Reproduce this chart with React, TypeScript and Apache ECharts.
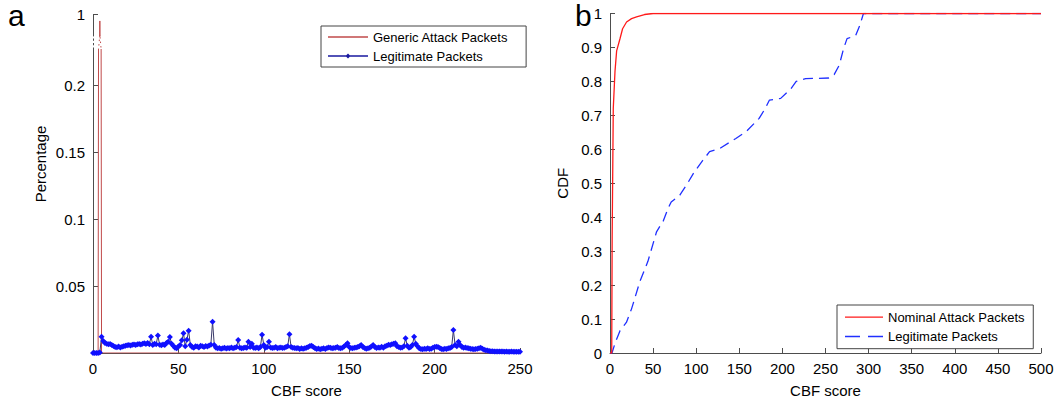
import React, { useEffect, useRef } from "react";
import * as echarts from "echarts";

const FONT = "'Liberation Sans', Arial, Helvetica, sans-serif";
const AXIS = "#4d4d4d";

// ---------- Panel a : Percentage vs CBF score ----------
const attackScoreA = [0, 3, 4, 5, 250];
const attackPctA = [0, 0, 0.97, 0, 0];
// Legitimate packets, one value per CBF score 0..250
const legitPctA = [
  0, 0, 0, 0, 0.0004, 0.0122, 0.009, 0.0075, 0.007, 0.0065,
  0.0068, 0.006, 0.0052, 0.0045, 0.0043, 0.0048, 0.0042, 0.0046, 0.005, 0.0055,
  0.0058, 0.006, 0.0056, 0.0062, 0.0064, 0.006, 0.0066, 0.0068, 0.0063, 0.007,
  0.0072, 0.0068, 0.0075, 0.0065, 0.0122, 0.006, 0.007, 0.0066, 0.013, 0.0062,
  0.0058, 0.0064, 0.006, 0.0075, 0.0085, 0.012, 0.007, 0.0055, 0.004, 0.0035,
  0.0048, 0.006, 0.0095, 0.0147, 0.005, 0.01, 0.0167, 0.006, 0.0045, 0.004,
  0.005, 0.0048, 0.0042, 0.0055, 0.005, 0.0045, 0.0052, 0.0048, 0.0056, 0.0062,
  0.0234, 0.006, 0.004, 0.0035, 0.0038, 0.0032, 0.0036, 0.004, 0.0034, 0.0038,
  0.0036, 0.0042, 0.0035, 0.004, 0.0045, 0.0098, 0.004, 0.0035, 0.0038, 0.0042,
  0.004, 0.0085, 0.0045, 0.007, 0.004, 0.0038, 0.0042, 0.0035, 0.0045, 0.0137,
  0.006, 0.004, 0.0045, 0.0085, 0.0042, 0.0038, 0.004, 0.0045, 0.0035, 0.004,
  0.0042, 0.0038, 0.004, 0.0045, 0.005, 0.014, 0.0045, 0.004, 0.0038, 0.0035,
  0.0038, 0.003, 0.0035, 0.0032, 0.0036, 0.004, 0.0045, 0.0052, 0.0055, 0.0045,
  0.0035, 0.003, 0.0034, 0.0028, 0.0032, 0.0035, 0.003, 0.0038, 0.0042, 0.004,
  0.0035, 0.0038, 0.004, 0.0045, 0.0038, 0.0035, 0.004, 0.0048, 0.006, 0.0072,
  0.0045, 0.0038, 0.0035, 0.004, 0.0042, 0.0045, 0.005, 0.006, 0.0045, 0.0038,
  0.0032, 0.0035, 0.004, 0.0048, 0.006, 0.0045, 0.0038, 0.0042, 0.004, 0.0047,
  0.004, 0.005, 0.0055, 0.0062, 0.006, 0.0065, 0.007, 0.0072, 0.005, 0.0045,
  0.004, 0.0042, 0.005, 0.011, 0.0055, 0.004, 0.0045, 0.006, 0.0122, 0.007,
  0.005, 0.0035, 0.003, 0.0028, 0.0032, 0.003, 0.0035, 0.003, 0.0032, 0.004,
  0.0045, 0.0047, 0.0045, 0.0038, 0.003, 0.0028, 0.0032, 0.003, 0.0035, 0.0038,
  0.0045, 0.0172, 0.006, 0.005, 0.0085, 0.006, 0.0045, 0.004, 0.0042, 0.0038,
  0.0035, 0.0032, 0.003, 0.0028, 0.003, 0.0032, 0.0035, 0.004, 0.0032, 0.0025,
  0.002, 0.0018, 0.0015, 0.0014, 0.0013, 0.0012, 0.0012, 0.0011, 0.0012, 0.0011,
  0.0011, 0.001, 0.0011, 0.001, 0.001, 0.0011, 0.001, 0.001, 0.001, 0.001,
  0.001,
];
const yLabelsA = [0.05, 0.1, 0.15, 0.2];

// ---------- Panel b : CDF vs CBF score ----------
const nominalScoreB = [0, 2, 2.5, 3.8, 5.8, 7.7, 11.5, 14.6, 19.2, 25, 30.8, 40, 50, 500];
const nominalCdfB = [0, 0, 0.34, 0.72, 0.83, 0.89, 0.925, 0.955, 0.975, 0.985, 0.99, 0.997, 1, 1];
const legitScoreB = [
  0, 2.3, 6, 11.5, 19, 25, 34.6, 44, 54, 62, 67.4, 71, 81, 90, 98, 107, 115.5, 127,
  146, 158, 173, 180, 185, 198, 210, 216, 227, 254, 260, 266, 271, 275, 285, 290, 294, 500,
];
const legitCdfB = [
  0, 0, 0.03, 0.065, 0.09, 0.13, 0.21, 0.27, 0.357, 0.39, 0.426, 0.445, 0.465, 0.5, 0.534, 0.565, 0.593, 0.602,
  0.632, 0.652, 0.691, 0.72, 0.745, 0.75, 0.779, 0.8, 0.808, 0.81, 0.82, 0.848, 0.897, 0.926, 0.935, 0.966, 1, 1,
];

const zip = (xs: number[], ys: number[]) => xs.map((x, i) => [x, ys[i]]);

const ICON_LINE = "path://M0,0h40v1.4h-40z";
const ICON_LINE_MARK = "path://M0,5.3h40v1.4h-40z M20,3.5l2.5,2.5l-2.5,2.5l-2.5,-2.5z";
const ICON_DASH = "path://M0,0h15v1.4h-15z M23,0h15v1.4h-15z";

// chart B container starts at this page x
const B_LEFT = 520;

function optionA(): any {
  const gridBase = { left: 93, width: 427, outerBoundsMode: "none", containLabel: false };
  const grids = [
    { ...gridBase, top: 14.5, height: 21.5 },
    { ...gridBase, top: 36, height: 13.4 },
    { ...gridBase, top: 49.4, height: 303.6 },
  ];
  const xAxes = grids.map((_, i) => ({
    gridIndex: i,
    type: "value",
    min: 0,
    max: 250,
    interval: 50,
    show: i === 2,
    axisLine: { lineStyle: { color: AXIS } },
    axisTick: { inside: true, length: 5, lineStyle: { color: AXIS } },
    axisLabel: { color: "#000", fontSize: 15, margin: 8, fontFamily: FONT },
    splitLine: { show: false },
    name: i === 2 ? "CBF score" : "",
    nameLocation: "middle",
    nameGap: 30,
    nameTextStyle: { color: "#000", fontSize: 15, fontFamily: FONT },
  }));
  const yAxes = [
    {
      gridIndex: 0,
      type: "value",
      min: 0.9,
      max: 1,
      axisLine: { show: true, lineStyle: { color: AXIS } },
      axisTick: { show: true, inside: true, length: 5, customValues: [1], lineStyle: { color: AXIS } },
      axisLabel: { color: "#000", fontSize: 15, margin: 8, fontFamily: FONT, customValues: [1] },
      splitLine: { show: false },
    },
    {
      gridIndex: 1,
      type: "value",
      min: 0.227,
      max: 0.9,
      axisLine: { show: true, lineStyle: { color: AXIS, type: [1.5, 3] } },
      axisTick: { show: false },
      axisLabel: { show: false },
      splitLine: { show: false },
    },
    {
      gridIndex: 2,
      type: "value",
      min: 0,
      max: 0.227,
      axisLine: { show: true, lineStyle: { color: AXIS } },
      axisTick: { show: true, inside: true, length: 5, customValues: [0, ...yLabelsA], lineStyle: { color: AXIS } },
      axisLabel: { color: "#000", fontSize: 15, margin: 8, fontFamily: FONT, customValues: yLabelsA },
      splitLine: { show: false },
    },
  ];
  const attackData = zip(attackScoreA, attackPctA);
  const legitData = legitPctA.map((v, i) => [i, v]);
  const attackColor = "#c04a4a";
  return {
    animation: false,
    textStyle: { fontFamily: FONT },
    grid: grids,
    xAxis: xAxes,
    yAxis: yAxes,
    legend: {
      orient: "vertical",
      left: 321,
      top: 26,
      itemWidth: 40,
      itemHeight: 12,
      itemGap: 6,
      padding: [4.5, 18, 4.5, 7],
      borderColor: "#444",
      borderWidth: 1,
      backgroundColor: "#fff",
      itemStyle: { borderWidth: 0 },
      textStyle: { color: "#000", fontSize: 13, fontFamily: FONT },
      data: [
        { name: "Generic Attack Packets", icon: ICON_LINE, itemStyle: { color: attackColor } },
        { name: "Legitimate Packets", icon: ICON_LINE_MARK, itemStyle: { color: "#1a1aa0" } },
      ],
    },
    series: [
      {
        name: "Generic Attack Packets",
        type: "line",
        xAxisIndex: 2,
        yAxisIndex: 2,
        data: attackData,
        symbol: "none",
        lineStyle: { color: attackColor, width: 1 },
        itemStyle: { color: attackColor },
        z: 1,
      },
      {
        name: "Generic Attack Packets",
        type: "line",
        xAxisIndex: 1,
        yAxisIndex: 1,
        data: attackData,
        symbol: "none",
        lineStyle: { color: attackColor, width: 1, type: [1.5, 3] },
        itemStyle: { color: attackColor },
      },
      {
        name: "Generic Attack Packets",
        type: "line",
        xAxisIndex: 0,
        yAxisIndex: 0,
        data: attackData,
        symbol: "none",
        lineStyle: { color: attackColor, width: 1 },
        itemStyle: { color: attackColor },
      },
      {
        name: "Legitimate Packets",
        type: "line",
        xAxisIndex: 2,
        yAxisIndex: 2,
        data: legitData,
        symbol: "diamond",
        symbolSize: 6,
        showAllSymbol: true,
        clip: false,
        lineStyle: { color: "#3a3a6a", width: 1 },
        itemStyle: { color: "#1010ff" },
        z: 3,
      },
    ],
    graphic: [
      {
        type: "text",
        left: 8,
        top: 0,
        style: { text: "a", fontSize: 30, fontFamily: FONT, fill: "#000" },
      },
      {
        type: "text",
        x: 40,
        y: 164,
        rotation: Math.PI / 2,
        style: {
          text: "Percentage",
          fontSize: 15,
          fontFamily: FONT,
          fill: "#000",
          align: "center",
          verticalAlign: "middle",
        },
      },
    ],
  };
}

function optionB(): any {
  const grid = {
    left: 610 - B_LEFT,
    width: 431,
    top: 13.5,
    height: 339.5,
    outerBoundsMode: "none",
    containLabel: false,
  };
  const axisCommon = {
    axisLine: { show: true, lineStyle: { color: AXIS } },
    axisTick: { show: true, inside: true, length: 5, lineStyle: { color: AXIS } },
    splitLine: { show: false },
  };
  return {
    animation: false,
    textStyle: { fontFamily: FONT },
    grid,
    xAxis: {
      type: "value",
      min: 0,
      max: 500,
      interval: 50,
      ...axisCommon,
      axisLabel: { color: "#000", fontSize: 15, margin: 8, fontFamily: FONT },
      name: "CBF score",
      nameLocation: "middle",
      nameGap: 30,
      nameTextStyle: { color: "#000", fontSize: 15, fontFamily: FONT },
    },
    yAxis: {
      type: "value",
      min: 0,
      max: 1,
      interval: 0.1,
      ...axisCommon,
      axisLabel: { color: "#000", fontSize: 15, margin: 8, fontFamily: FONT },
      name: "CDF",
      nameLocation: "middle",
      nameGap: 38,
      nameTextStyle: { color: "#000", fontSize: 15, fontFamily: FONT },
    },
    legend: {
      orient: "vertical",
      left: 837 - B_LEFT,
      top: 305,
      itemWidth: 38,
      itemHeight: 12,
      itemGap: 6.3,
      padding: [5.7, 8, 5.7, 8],
      borderColor: "#444",
      borderWidth: 1,
      backgroundColor: "#fff",
      itemStyle: { borderWidth: 0 },
      textStyle: { color: "#000", fontSize: 13, fontFamily: FONT },
      data: [
        { name: "Nominal Attack Packets", icon: ICON_LINE },
        { name: "Legitimate Packets", icon: ICON_DASH },
      ],
    },
    series: [
      {
        name: "Nominal Attack Packets",
        type: "line",
        data: zip(nominalScoreB, nominalCdfB),
        symbol: "none",
        lineStyle: { color: "#ff1a1a", width: 1.3 },
        itemStyle: { color: "#ff1a1a" },
        z: 3,
      },
      {
        name: "Legitimate Packets",
        type: "line",
        data: zip(legitScoreB, legitCdfB),
        symbol: "none",
        lineStyle: { color: "#2030ff", width: 1.3, type: [10, 6] },
        itemStyle: { color: "#2030ff" },
        z: 2,
      },
    ],
    graphic: [
      {
        type: "text",
        left: 575 - B_LEFT,
        top: 0,
        style: { text: "b", fontSize: 30, fontFamily: FONT, fill: "#000" },
      },
    ],
  };
}

export default function App() {
  const refA = useRef<HTMLDivElement>(null);
  const refB = useRef<HTMLDivElement>(null);
  useEffect(() => {
    const a = echarts.init(refA.current!, undefined, { renderer: "svg" });
    const b = echarts.init(refB.current!, undefined, { renderer: "svg" });
    a.setOption(optionA());
    b.setOption(optionB());
    return () => {
      a.dispose();
      b.dispose();
    };
  }, []);
  return (
    <div style={{ position: "absolute", left: 0, top: 0, width: 1057, height: 405, background: "#fff" }}>
      <div ref={refA} style={{ position: "absolute", left: 0, top: 0, width: 560, height: 405 }} />
      <div ref={refB} style={{ position: "absolute", left: B_LEFT, top: 0, width: 1057 - B_LEFT, height: 405 }} />
    </div>
  );
}
